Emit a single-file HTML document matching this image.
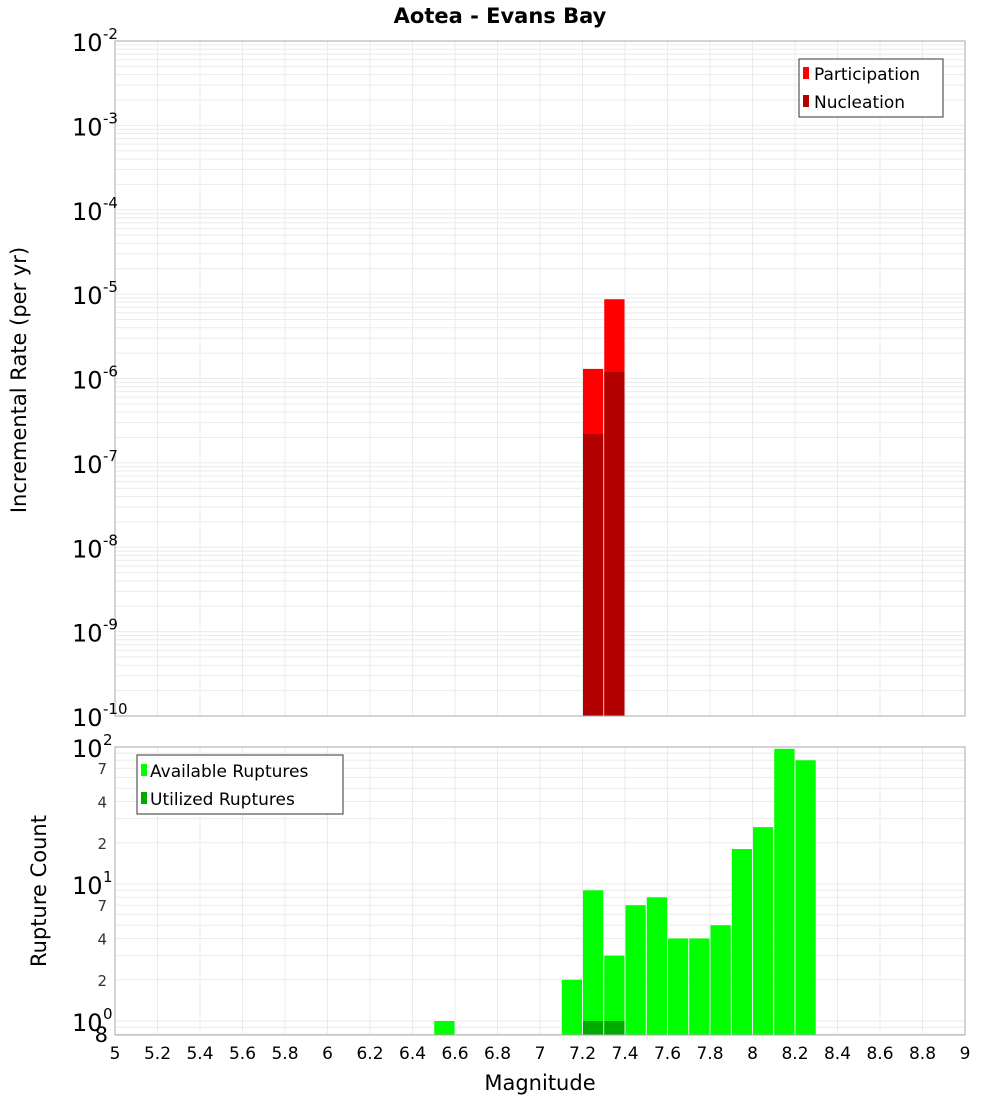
<!DOCTYPE html>
<html><head><meta charset="utf-8">
<style>
body{margin:0;background:#fff;}
svg{display:block;font-family:"DejaVu Sans","Liberation Sans",sans-serif;}
</style></head>
<body>
<svg id="chart" width="1000" height="1100" viewBox="0 0 1000 1100" xmlns="http://www.w3.org/2000/svg">
<text x="500" y="23" text-anchor="middle" font-size="21" font-weight="bold">Aotea - Evans Bay</text>
<text transform="translate(26,380) rotate(-90)" text-anchor="middle" font-size="21">Incremental Rate (per yr)</text>
<text transform="translate(46,891) rotate(-90)" text-anchor="middle" font-size="21">Rupture Count</text>
<text x="540" y="1090" text-anchor="middle" font-size="21">Magnitude</text>
<g id="topg"></g>
<g id="botg"></g>
<g id="xt"></g>
<g>
<rect x="799" y="59" width="144" height="58" fill="#fff" stroke="#333"/>
<rect x="803" y="67" width="6" height="12" fill="#ff0000"/>
<text x="814" y="80" font-size="17">Participation</text>
<rect x="803" y="95" width="6" height="12" fill="#b30000"/>
<text x="814" y="108" font-size="17">Nucleation</text>
</g>
<g>
<rect x="137" y="755" width="206" height="59" fill="#fff" stroke="#333"/>
<rect x="141" y="764" width="6" height="12" fill="#00ff00"/>
<text x="150" y="777" font-size="17">Available Ruptures</text>
<rect x="141" y="792" width="6" height="12" fill="#00aa00"/>
<text x="150" y="805" font-size="17">Utilized Ruptures</text>
</g>
</svg>
<script>
const topBinCenters=[7.25,7.35];
const participation=[1.3e-6,8.7e-6];
const nucleation=[2.2e-7,1.2e-6];
const botBinCenters=[6.55,7.15,7.25,7.35,7.45,7.55,7.65,7.75,7.85,7.95,8.05,8.15,8.25];
const available=[1,2,9,3,7,8,4,4,5,18,26,97,80];
const utilizedCenters=[7.25,7.35];
const utilized=[1,1];
const xTickLabels=["5","5.2","5.4","5.6","5.8","6","6.2","6.4","6.6","6.8","7","7.2","7.4","7.6","7.8","8","8.2","8.4","8.6","8.8","9"];
const topExps=[-2,-3,-4,-5,-6,-7,-8,-9,-10];
const botExps=[2,1,0];
const botMinorLabels=[7,4,2];

const NS="http://www.w3.org/2000/svg";
const X0=115,X1=965;
const xs=m=>X0+(m-5)/4*(X1-X0);
const TT=41,TB=716;
const yT=v=>TT+(-2-Math.log10(v))*(TB-TT)/8;
const BT=747,BB=1035,BD=137;
const yB=v=>BT+(2-Math.log10(v))*BD;
function el(p,t,a){const e=document.createElementNS(NS,t);for(const k in a)e.setAttribute(k,a[k]);p.appendChild(e);return e;}
const topG=document.getElementById('topg'),botG=document.getElementById('botg'),xtG=document.getElementById('xt');

function panel(g,y0,y1,minorYs,name){
  const bg=el(g,'rect',{x:X0,y:y0,width:X1-X0,height:y1-y0,fill:'#fff'});
  
  
  minorYs.forEach(y=>{if(y>=y0&&y<=y1){const l=el(g,'line',{x1:X0,x2:X1,y1:y,y2:y,stroke:'#ebebeb','stroke-width':1});
    
    }});
  for(let i=1;i<20;i++){const xx=xs(5+i*0.2);const l=el(g,'line',{x1:xx,x2:xx,y1:y0,y2:y1,stroke:'#ebebeb','stroke-width':1});
    
    }
}
let tmin=[];for(let e=-10;e<-2;e++)for(let k=1;k<10;k++)tmin.push(yT(k*Math.pow(10,e)));tmin.push(TT);
panel(topG,TT,TB,tmin,'top');
let bmin=[];for(let e=-1;e<2;e++)for(let k=1;k<10;k++)bmin.push(yB(k*Math.pow(10,e)));bmin.push(BT);
panel(botG,BT,BB,bmin,'bottom');

function bar(g,c,v,yf,base,fill,name){
  const y=yf(v);const r=el(g,'rect',{x:xs(c-0.05)+0.5,y:y,width:xs(c+0.05)-xs(c-0.05)-1,height:base-y,fill:fill});
  
  
}
topBinCenters.forEach((c,i)=>bar(topG,c,participation[i],yT,TB,'#ff0000','participation-bar'));
topBinCenters.forEach((c,i)=>bar(topG,c,nucleation[i],yT,TB,'#b30000','nucleation-bar'));
botBinCenters.forEach((c,i)=>bar(botG,c,available[i],yB,BB,'#00ff00','available-bar'));
utilizedCenters.forEach((c,i)=>bar(botG,c,utilized[i],yB,BB,'#00aa00','utilized-bar'));

el(topG,'rect',{x:X0,y:TT,width:X1-X0,height:TB-TT,fill:'none',stroke:'#aaa'});
el(botG,'rect',{x:X0,y:BT,width:X1-X0,height:BB-BT,fill:'none',stroke:'#aaa'});

function powLabel(g,y,exp,name){
  const t=el(g,'text',{x:72,y:y+10,'font-size':24});
  
  
  t.textContent='10';
  const s=el(g,'text',{x:103,y:y-2,'font-size':15});
  
  
  s.textContent=String(exp);
}
topExps.forEach(e=>powLabel(topG,yT(Math.pow(10,e)),e,'top-y-tick-label'));
botExps.forEach(e=>powLabel(botG,yB(Math.pow(10,e)),e,'bottom-y-tick-label'));
[1,10].forEach(d=>botMinorLabels.forEach(k=>{
  const t=el(botG,'text',{x:107,y:yB(k*d)+6,'font-size':15,'text-anchor':'end',fill:'#333'});
  
  
  t.textContent=String(k);}));
const t8=el(botG,'text',{x:108,y:1042,'font-size':21,'text-anchor':'end'});


t8.textContent='8';

xTickLabels.forEach((lb,i)=>{
  const t=el(xtG,'text',{x:xs(5+i*0.2),y:1059,'font-size':17,'text-anchor':'middle'});
  
  
  t.textContent=lb;});
</script>
</body></html>
